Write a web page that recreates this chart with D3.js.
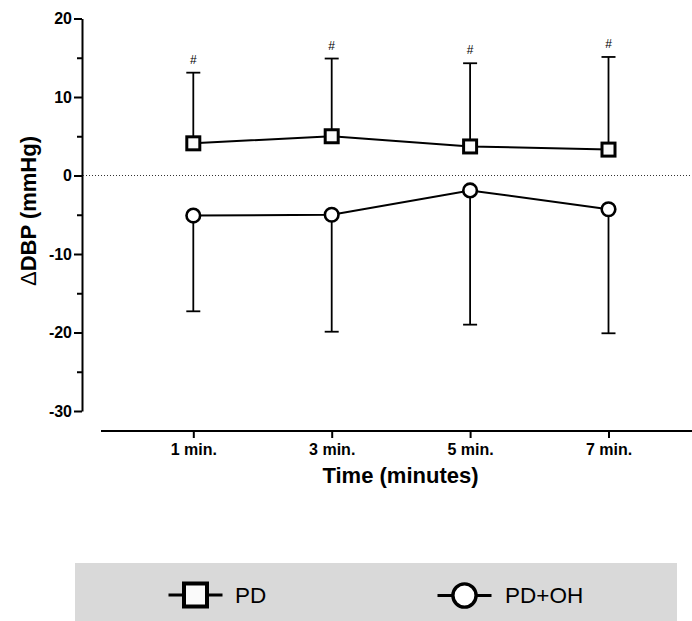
<!DOCTYPE html>
<html>
<head>
<meta charset="utf-8">
<script src="https://cdn.jsdelivr.net/npm/d3@7"></script>
<style>
  body { margin: 0; background: #fff; }
  text { font-family: "Liberation Sans", Arial, sans-serif; }
</style>
</head>
<body>
<div id="chart"></div>
<script>
// data
var timeLabels = ["1 min.", "3 min.", "5 min.", "7 min."];
var pdMean = [4.1, 5.0, 3.7, 3.3];
var pdUpper = [13.1, 14.9, 14.3, 15.1];
var pdohMean = [-5.1, -5.0, -1.9, -4.3];
var pdohLower = [-17.3, -19.9, -19.0, -20.1];
var sigMarks = ["#", "#", "#", "#"];
var yMajorTicks = [-30, -20, -10, 0, 10, 20];
var yMinorTicks = [-25, -15, -5, 5, 15];
var seriesNames = ["PD", "PD+OH"];

var svgWidth = 692;
var svgHeight = 621;

var svg = d3.select("#chart")
  .append("svg")
  .attr("width", svgWidth)
  .attr("height", svgHeight);

// scales
var xScale = d3.scalePoint()
  .domain(timeLabels)
  .range([193.3, 608.5]);

var yScale = d3.scaleLinear()
  .domain([-30, 20])
  .range([411, 18.5]);

// y axis
var yAxisX = 82;
var yAxis = svg.append("g")
  .attr("transform", `translate(${yAxisX},0)`)
  .call(d3.axisLeft(yScale).tickValues(yMajorTicks).tickSize(8).tickSizeOuter(0).tickFormat(d => String(d)));
yAxis.select(".domain").attr("stroke", "#000").attr("stroke-width", 2);
yAxis.selectAll(".tick line").attr("stroke", "#000").attr("stroke-width", 2);
yAxis.selectAll(".tick text")
  .attr("x", -10)
  .attr("font-family", "Liberation Sans, Arial, sans-serif")
  .attr("font-size", 16)
  .attr("font-weight", "bold")
  .attr("fill", "#000");

// minor ticks
svg.append("g")
  .attr("transform", `translate(${yAxisX},0)`)
  .call(d3.axisLeft(yScale).tickValues(yMinorTicks).tickSize(5).tickFormat(""))
  .call(g => g.select(".domain").remove())
  .selectAll(".tick line").attr("stroke", "#000").attr("stroke-width", 2);

// x axis
var xAxisY = 431;
var xAxis = svg.append("g")
  .attr("transform", `translate(0,${xAxisY})`)
  .call(d3.axisBottom(xScale).tickSize(7).tickSizeOuter(0));
xAxis.select(".domain").remove();
xAxis.selectAll(".tick line").attr("stroke", "#000").attr("stroke-width", 2);
xAxis.selectAll(".tick text")
  .attr("y", 24)
  .attr("dy", 0)
  .attr("font-family", "Liberation Sans, Arial, sans-serif")
  .attr("font-size", 16)
  .attr("font-weight", "bold")
  .attr("fill", "#000");
xAxis.append("line")
  .attr("x1", 101)
  .attr("x2", 692)
  .attr("y1", 0)
  .attr("y2", 0)
  .attr("stroke", "#000")
  .attr("stroke-width", 2);

// zero reference line
svg.append("line")
  .attr("x1", yAxisX + 1)
  .attr("x2", 692)
  .attr("y1", yScale(0))
  .attr("y2", yScale(0))
  .attr("stroke", "#333")
  .attr("stroke-width", 1)
  .attr("stroke-dasharray", "1,2");

// axis titles
var yTitle = svg.append("text")
  .attr("transform", `translate(36,211) rotate(-90)`)
  .attr("text-anchor", "middle")
  .attr("font-size", 22)
  .attr("font-weight", "bold")
  .attr("fill", "#000");
yTitle.append("tspan").attr("font-weight", "normal").text("\u0394");
yTitle.append("tspan").text("DBP (mmHg)");

svg.append("text")
  .attr("x", 400.5)
  .attr("y", 483)
  .attr("text-anchor", "middle")
  .attr("font-size", 22)
  .attr("font-weight", "bold")
  .attr("fill", "#000")
  .text("Time (minutes)");

var capHalf = 7;

// PD error bars (upper)
var pdBars = svg.append("g");
timeLabels.forEach(function(t, i) {
  var x = xScale(t);
  pdBars.append("line")
    .attr("x1", x).attr("x2", x)
    .attr("y1", yScale(pdMean[i])).attr("y2", yScale(pdUpper[i]))
    .attr("stroke", "#000").attr("stroke-width", 1.8);
  pdBars.append("line")
    .attr("x1", x - capHalf).attr("x2", x + capHalf)
    .attr("y1", yScale(pdUpper[i])).attr("y2", yScale(pdUpper[i]))
    .attr("stroke", "#000").attr("stroke-width", 1.8);
  pdBars.append("text")
    .attr("x", x)
    .attr("y", yScale(pdUpper[i]) - 9)
    .attr("text-anchor", "middle")
    .attr("font-size", 12)
    .attr("fill", "#000")
    .text(sigMarks[i]);
});

// PD+OH error bars (lower)
var ohBars = svg.append("g");
timeLabels.forEach(function(t, i) {
  var x = xScale(t);
  ohBars.append("line")
    .attr("x1", x).attr("x2", x)
    .attr("y1", yScale(pdohMean[i])).attr("y2", yScale(pdohLower[i]))
    .attr("stroke", "#000").attr("stroke-width", 1.8);
  ohBars.append("line")
    .attr("x1", x - capHalf).attr("x2", x + capHalf)
    .attr("y1", yScale(pdohLower[i])).attr("y2", yScale(pdohLower[i]))
    .attr("stroke", "#000").attr("stroke-width", 1.8);
});

// connecting lines
var line = d3.line()
  .x((d, i) => xScale(timeLabels[i]))
  .y(d => yScale(d));

svg.append("path")
  .datum(pdMean)
  .attr("d", line)
  .attr("fill", "none")
  .attr("stroke", "#000")
  .attr("stroke-width", 2);

svg.append("path")
  .datum(pdohMean)
  .attr("d", line)
  .attr("fill", "none")
  .attr("stroke", "#000")
  .attr("stroke-width", 2);

// markers
var sq = 13;
svg.selectAll(".pd-marker")
  .data(pdMean)
  .enter()
  .append("rect")
  .attr("class", "pd-marker")
  .attr("x", (d, i) => xScale(timeLabels[i]) - sq / 2)
  .attr("y", d => yScale(d) - sq / 2)
  .attr("width", sq)
  .attr("height", sq)
  .attr("fill", "#fafafa")
  .attr("stroke", "#000")
  .attr("stroke-width", 3);

svg.selectAll(".oh-marker")
  .data(pdohMean)
  .enter()
  .append("circle")
  .attr("class", "oh-marker")
  .attr("cx", (d, i) => xScale(timeLabels[i]))
  .attr("cy", d => yScale(d))
  .attr("r", 6.8)
  .attr("fill", "#fff")
  .attr("stroke", "#000")
  .attr("stroke-width", 2.6);

// legend
var legend = svg.append("g");
legend.append("rect")
  .attr("x", 75)
  .attr("y", 563)
  .attr("width", 602)
  .attr("height", 58)
  .attr("fill", "#d9d9d9");

var legendItems = [
  { name: seriesNames[0], cx: 195.5, cy: 595, tx: 235, shape: "square" },
  { name: seriesNames[1], cx: 464.5, cy: 595.5, tx: 505, shape: "circle" }
];
legendItems.forEach(function(item) {
  legend.append("line")
    .attr("x1", item.cx - 27).attr("x2", item.cx + 27)
    .attr("y1", item.cy).attr("y2", item.cy)
    .attr("stroke", "#000").attr("stroke-width", 3);
  if (item.shape === "square") {
    legend.append("rect")
      .attr("x", item.cx - 11.5).attr("y", item.cy - 11.5)
      .attr("width", 23).attr("height", 23)
      .attr("fill", "#fafafa").attr("stroke", "#000").attr("stroke-width", 4);
  } else {
    legend.append("circle")
      .attr("cx", item.cx).attr("cy", item.cy)
      .attr("r", 11.6)
      .attr("fill", "#fff").attr("stroke", "#000").attr("stroke-width", 3.4);
  }
  legend.append("text")
    .attr("x", item.tx)
    .attr("y", 603)
    .attr("font-size", 22.5)
    .attr("fill", "#000")
    .text(item.name);
});
</script>
</body>
</html>
